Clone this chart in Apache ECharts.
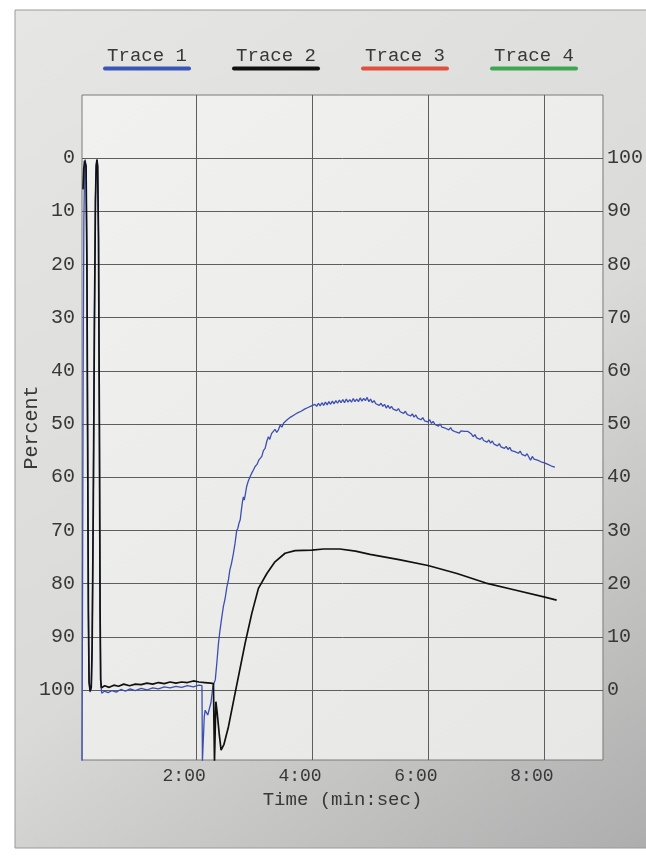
<!DOCTYPE html>
<html>
<head>
<meta charset="utf-8">
<script src="https://cdn.jsdelivr.net/npm/echarts@6/dist/echarts.min.js"></script>
<style>
html,body{margin:0;padding:0;background:#fff;}
#chart{width:646px;height:859px;}
</style>
</head>
<body>
<div id="chart"></div>
<script>
// ---- data (time in minutes, percent) ----
const traceNames = ['Trace 1', 'Trace 2', 'Trace 3', 'Trace 4'];
const traceColors = ['#3a55b8', '#111111', '#e0503c', '#3ea552'];
const xTickValues = [2, 4, 6, 8];
const yTickValues = [0, 10, 20, 30, 40, 50, 60, 70, 80, 90, 100];

const trace1 = [
  [0.03,113.5],[0.04,80],[0.05,40],[0.062,12],[0.075,2],[0.086,0.3],[0.1,1.8],[0.115,20],[0.126,50],[0.14,85],[0.152,98.5],[0.17,100.4],[0.19,99.6],[0.205,92],[0.225,65],[0.245,30],[0.262,8],[0.275,1.5],[0.288,0.3],[0.3,1.5],[0.315,15],[0.33,50],[0.342,85],[0.352,98.5],[0.37,100.6],
  [0.42,100.2],[0.48,100.5],[0.55,100.1],[0.62,100.4],[0.7,99.9],[0.78,100.2],[0.86,99.8],[0.95,100.1],[1.05,99.7],[1.15,100.0],[1.25,99.6],[1.35,99.8],[1.45,99.4],[1.55,99.6],[1.65,99.3],[1.75,99.5],[1.85,99.2],[1.95,99.4],[2.05,99.1],[2.1,99.2],
  [2.108,113.5],[2.14,105],[2.155,103.8],[2.2,104.7],[2.255,102.4],[2.29,99.2],[2.33,98.1],
  [2.36,94.5],[2.385,91.2],[2.41,88.9],[2.44,86.5],[2.47,84.3],[2.50,82.8],[2.53,80.6],[2.557,79.3],[2.58,77.5],[2.61,76.2],[2.643,74.3],[2.67,72.5],[2.70,70.0],[2.72,69.6],[2.74,68.6],[2.76,68.0],[2.78,66.2],[2.80,64.5],[2.815,63.7],[2.83,64.3],[2.845,63.4],[2.87,61.8],[2.90,60.7],[2.93,59.9],[2.96,59.2],[2.99,58.6],
  [3.017,58.0],[3.05,57.6],[3.08,56.8],[3.11,56.9],[3.133,56.1],[3.16,55.0],[3.19,54.6],[3.22,53.2],[3.247,52.4],[3.27,52.9],[3.30,51.8],[3.33,51.7],[3.36,51.0],[3.39,51.6],[3.42,51.1],[3.45,50.2],[3.48,50.6],[3.51,49.8],[3.54,50.0],[3.57,49.2],[3.60,49.5],[3.63,48.7],[3.66,48.9],[3.69,48.3],[3.72,48.6],[3.75,47.9],[3.78,48.1],[3.81,47.6],[3.84,47.8],[3.87,47.2],[3.90,47.5],[3.93,46.9],[3.96,47.2],[3.99,46.6],
  [4.02,46.9],[4.05,46.3],[4.08,46.7],[4.11,46.1],[4.14,46.6],[4.17,46.0],[4.20,46.5],[4.23,45.9],[4.26,46.4],[4.29,45.8],[4.32,46.3],[4.35,45.7],[4.38,46.2],[4.41,45.6],[4.44,46.1],[4.47,45.5],[4.50,46.0],[4.53,45.4],[4.56,46.0],[4.59,45.3],[4.62,45.9],[4.65,45.4],[4.68,45.9],[4.71,45.2],[4.74,45.8],[4.77,45.3],[4.80,45.8],[4.83,45.1],[4.86,45.7],[4.89,45.2],[4.92,45.6],[4.95,45.0],[4.98,45.8],
  [5.01,45.3],[5.04,46.0],[5.07,45.6],[5.10,46.2],[5.13,45.9],[5.16,46.5],[5.19,46.1],[5.22,46.7],[5.25,46.3],[5.28,47.0],[5.31,46.5],[5.34,47.1],[5.37,46.7],[5.40,47.2],[5.43,46.9],[5.46,47.5],[5.49,47.1],[5.52,47.7],[5.55,47.4],[5.58,48.0],[5.61,47.6],[5.64,48.2],[5.67,47.9],[5.70,48.5],[5.73,48.1],[5.76,48.7],[5.79,48.3],[5.82,48.9],[5.85,48.6],[5.88,49.2],[5.91,48.8],[5.94,49.4],[5.97,49.1],
  [6.00,49.6],[6.03,49.2],[6.06,49.9],[6.09,49.5],[6.12,50.1],[6.15,49.8],[6.18,50.4],[6.21,50.0],[6.24,50.6],[6.27,50.3],[6.30,50.8],[6.33,50.5],[6.36,51.1],[6.39,50.7],[6.42,51.2],[6.45,51.0],[6.48,51.5],[6.51,51.2],[6.54,51.7],[6.57,51.3],[6.60,51.6],[6.63,51.4],[6.66,51.5],[6.69,51.4],[6.72,51.6],[6.75,51.9],[6.78,52.4],[6.81,52.0],[6.84,52.6],[6.87,52.3],[6.90,52.9],[6.93,52.5],[6.96,53.1],[6.99,52.8],
  [7.02,53.4],[7.05,53.0],[7.08,53.6],[7.11,53.2],[7.14,53.8],[7.17,53.5],[7.20,54.1],[7.23,53.7],[7.26,54.3],[7.29,54.0],[7.32,54.6],[7.35,54.2],[7.38,54.8],[7.41,54.4],[7.44,55.0],[7.47,54.7],[7.50,55.2],[7.53,54.9],[7.56,55.5],[7.59,55.1],[7.62,55.7],[7.65,55.4],[7.68,56.0],[7.71,55.6],[7.74,56.2],[7.77,56.8],[7.80,56.1],[7.83,56.6],[7.86,56.3],[7.89,56.8],[7.92,56.5],[7.95,57.1],[7.98,56.8],
  [8.01,57.3],[8.04,57.1],[8.07,57.6],[8.10,57.4],[8.13,57.9],[8.16,57.7],[8.19,58.1]
];

const trace2 = [
  [0.047,5.9],[0.06,2],[0.075,0.5],[0.086,0.2],[0.1,1.5],[0.115,20],[0.126,50],[0.14,85],[0.152,98.5],[0.17,100.2],[0.19,99.5],[0.205,92],[0.225,65],[0.245,30],[0.262,8],[0.275,1.5],[0.288,0.3],[0.3,1.5],[0.315,15],[0.33,50],[0.342,85],[0.352,98],[0.365,99.6],
  [0.42,99.2],[0.5,99.5],[0.58,99.1],[0.66,99.3],[0.75,98.9],[0.85,99.2],[0.95,98.9],[1.05,99.0],[1.15,98.7],[1.25,98.9],[1.35,98.6],[1.45,98.8],[1.55,98.5],[1.65,98.7],[1.75,98.5],[1.85,98.6],[1.95,98.3],[2.05,98.5],[2.15,98.6],[2.25,98.7],[2.298,98.8],
  [2.316,113.5],[2.34,102.2],[2.36,104],[2.40,108.5],[2.43,111.3],[2.45,111.5],[2.48,110.2],[2.557,106.9],[2.672,100.6],[2.845,91.2],[2.96,85.6],[3.074,80.9],[3.22,78.1],[3.36,75.9],[3.534,74.3],[3.707,73.8],[3.995,73.7],[4.2,73.5],[4.48,73.5],[4.75,73.9],[5.0,74.5],[5.5,75.5],[6.0,76.6],[6.5,78.1],[7.0,79.9],[7.5,81.2],[8.0,82.5],[8.22,83.1]
];
const trace3 = [];
const trace4 = [];
const traces = [trace1, trace2, trace3, trace4];

// ---- chart ----
const FONT = 'Liberation Mono';
const TXT = '#383838';
const chart = echarts.init(document.getElementById('chart'), null, {renderer: 'canvas'});

const rich = { t: { fontFamily: FONT, fontSize: 19, color: TXT, width: 88, align: 'center', lineHeight: 22 } };
traceColors.forEach((c, i) => {
  rich['u' + i] = { width: 88, height: 4, backgroundColor: c, borderRadius: 2 };
});

const option = {
  animation: false,
  backgroundColor: '#ffffff',
  graphic: [
    { type: 'rect', z: -100, silent: true, shape: { x: 15, y: 10, width: 640, height: 838 },
      style: { stroke: '#9a9a9a', lineWidth: 1,
        fill: new echarts.graphic.LinearGradient(0, 0, 1, 1, [
          { offset: 0, color: '#e6e6e4' }, { offset: 0.55, color: '#dadad8' }, { offset: 1, color: '#adadad' }
        ]) } }
  ],
  legend: {
    left: 93, top: 41,
    icon: 'none', itemWidth: 0, itemHeight: 0, itemGap: 36,
    data: traceNames,
    formatter: function (name) { const i = traceNames.indexOf(name); return '{t|' + name + '}\n{u' + i + '|}'; },
    textStyle: { rich: rich }
  },
  grid: {
    left: 82, right: 43, top: 95, bottom: 99,
    show: true, borderColor: '#7a7a7a', borderWidth: 1,
    backgroundColor: new echarts.graphic.LinearGradient(0, 0, 1, 1, [
      { offset: 0, color: '#f1f1ef' }, { offset: 1, color: '#e7e7e5' }
    ])
  },
  xAxis: {
    type: 'value', min: 0.03, max: 9.02,
    name: 'Time (min:sec)', nameLocation: 'middle', nameGap: 30, nameMoveOverlap: false,
    nameTextStyle: { fontFamily: FONT, fontSize: 19, color: TXT },
    axisLine: { show: false },
    axisTick: { show: false, customValues: xTickValues },
    axisLabel: { customValues: xTickValues, fontFamily: FONT, fontSize: 18, color: TXT, margin: 7,
      padding: [0, 24, 0, 0], formatter: v => v + ':00' },
    splitLine: { show: true, lineStyle: { color: '#5e5e5e', width: 1 } }
  },
  yAxis: [
    {
      type: 'value', inverse: true, min: -11.84, max: 113.16, position: 'left',
      name: 'Percent', nameLocation: 'middle', nameGap: 40, nameRotate: 90, nameMoveOverlap: false,
      nameTextStyle: { fontFamily: FONT, fontSize: 20, color: TXT },
      axisLine: { show: false },
      axisTick: { show: false, customValues: yTickValues },
      axisLabel: { customValues: yTickValues, fontFamily: FONT, fontSize: 20, color: TXT, margin: 7 },
      splitLine: { show: true, lineStyle: { color: '#5e5e5e', width: 1 } }
    },
    {
      type: 'value', min: -13.16, max: 111.84, position: 'right',
      axisLine: { show: false },
      axisTick: { show: false, customValues: yTickValues },
      axisLabel: { customValues: yTickValues, fontFamily: FONT, fontSize: 20, color: TXT, margin: 4 },
      splitLine: { show: false }
    }
  ],
  series: traceNames.map((n, i) => ({
    name: n, type: 'line', yAxisIndex: 0, data: traces[i],
    showSymbol: false, symbol: 'none', clip: true,
    color: traceColors[i],
    lineStyle: { color: i === 0 ? '#3c4fb0' : traceColors[i], width: i === 1 ? 1.7 : 1.3 },
    emphasis: { disabled: true }
  }))
};
chart.setOption(option);
</script>
</body>
</html>
